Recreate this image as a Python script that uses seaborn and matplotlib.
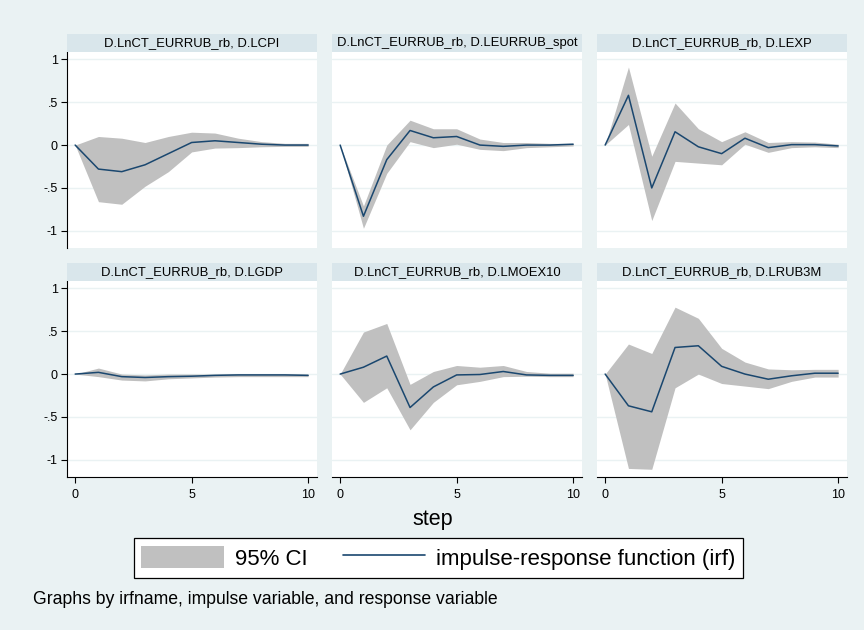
import numpy as np
import pandas as pd
import matplotlib
matplotlib.use("Agg")
import matplotlib.pyplot as plt
import seaborn as sns
from matplotlib.patches import Patch
from matplotlib.lines import Line2D

# ---- data: impulse D.LnCT_EURRUB_rb, 95% CI bounds per response ----
steps = list(range(11))
impulse = "D.LnCT_EURRUB_rb"
responses = ["D.LCPI", "D.LEURRUB_spot", "D.LEXP", "D.LGDP", "D.LMOEX10", "D.LRUB3M"]

lcpi_irf = [0, -0.28, -0.31, -0.23, -0.10, 0.03, 0.05, 0.03, 0.01, 0.0, 0.0]
lcpi_lo = [0, -0.66, -0.69, -0.48, -0.31, -0.08, -0.035, -0.03, -0.02, -0.015, -0.015]
lcpi_hi = [0, 0.10, 0.08, 0.03, 0.10, 0.15, 0.14, 0.08, 0.04, 0.02, 0.02]

spot_irf = [0, -0.83, -0.17, 0.17, 0.085, 0.10, 0.0, -0.015, 0.0, 0.0, 0.01]
spot_lo = [0, -0.97, -0.33, 0.04, -0.03, 0.01, -0.05, -0.065, -0.03, -0.02, -0.01]
spot_hi = [0, -0.71, 0.0, 0.29, 0.19, 0.19, 0.07, 0.03, 0.03, 0.02, 0.02]

lexp_irf = [0, 0.58, -0.50, 0.155, -0.02, -0.10, 0.08, -0.03, 0.005, 0.005, -0.01]
lexp_lo = [0, 0.24, -0.88, -0.19, -0.21, -0.23, 0.01, -0.085, -0.03, -0.02, -0.03]
lexp_hi = [0, 0.91, -0.13, 0.49, 0.19, 0.04, 0.155, 0.03, 0.04, 0.035, 0.01]

lgdp_irf = [0, 0.02, -0.03, -0.04, -0.03, -0.025, -0.015, -0.01, -0.01, -0.01, -0.015]
lgdp_lo = [0, -0.03, -0.07, -0.08, -0.055, -0.045, -0.035, -0.03, -0.03, -0.03, -0.03]
lgdp_hi = [0, 0.07, 0.0, -0.01, 0.0, 0.0, 0.0, 0.005, 0.005, 0.005, 0.0]

moex_irf = [0, 0.08, 0.21, -0.39, -0.15, -0.01, -0.005, 0.03, -0.01, -0.015, -0.015]
moex_lo = [0, -0.33, -0.16, -0.65, -0.33, -0.125, -0.085, -0.03, -0.025, -0.03, -0.03]
moex_hi = [0, 0.49, 0.59, -0.12, 0.03, 0.10, 0.08, 0.10, 0.03, 0.01, 0.01]

rub_irf = [0, -0.37, -0.44, 0.31, 0.33, 0.09, 0.0, -0.06, -0.02, 0.01, 0.01]
rub_lo = [0, -1.10, -1.11, -0.16, 0.0, -0.11, -0.14, -0.17, -0.085, -0.035, -0.035]
rub_hi = [0, 0.35, 0.24, 0.78, 0.65, 0.30, 0.14, 0.06, 0.05, 0.055, 0.055]

ytick_values = [-1, -0.5, 0, 0.5, 1]
ytick_labels = ["-1", "-.5", "0", ".5", "1"]
xtick_values = [0, 5, 10]
xtick_labels = ["0", "5", "10"]

series = {
    "D.LCPI": (lcpi_irf, lcpi_lo, lcpi_hi),
    "D.LEURRUB_spot": (spot_irf, spot_lo, spot_hi),
    "D.LEXP": (lexp_irf, lexp_lo, lexp_hi),
    "D.LGDP": (lgdp_irf, lgdp_lo, lgdp_hi),
    "D.LMOEX10": (moex_irf, moex_lo, moex_hi),
    "D.LRUB3M": (rub_irf, rub_lo, rub_hi),
}
frames = []
for resp in responses:
    irf, lo, hi = series[resp]
    frames.append(pd.DataFrame({"step": steps, "irf": irf, "lo": lo, "hi": hi,
                                "response": resp}))
df = pd.concat(frames, ignore_index=True)

# ---- styling ----
sns.set_style("white")
plt.rcParams["font.family"] = ["Liberation Sans", "DejaVu Sans"]
plt.rcParams["text.color"] = "black"
plt.rcParams["axes.labelcolor"] = "black"
plt.rcParams["xtick.color"] = "black"
plt.rcParams["ytick.color"] = "black"

BG = "#eaf2f3"
STRIP = "#d9e6eb"
NAVY = "#1a476f"
CI_GRAY = "#c0c0c0"

W, H = 864, 630
fig = plt.figure(figsize=(W / 100, H / 100), dpi=100, facecolor=BG)

col_left = [67, 332, 597]
panel_w = 250
row_top = [52, 281]       # top of plot region (px)
panel_h = 196
strip_h = 18


def fx(px):
    return px / W


def fy(py):
    return 1 - py / H


for i, resp in enumerate(responses):
    r, c = divmod(i, 3)
    left = col_left[c]
    top = row_top[r]
    ax = fig.add_axes([fx(left), fy(top + panel_h), fx(panel_w), panel_h / H])
    ax.set_facecolor("white")
    sub = df[df["response"] == resp]
    ax.fill_between(sub["step"], sub["lo"], sub["hi"], color=CI_GRAY, lw=0, zorder=2)
    sns.lineplot(data=sub, x="step", y="irf", ax=ax, color=NAVY, lw=1.1, zorder=3,
                 legend=False)
    ax.set_xlim(-0.35, 10.38)
    ax.set_ylim(-1.2, 1.085)
    ax.set_yticks(ytick_values)
    ax.grid(axis="y", color=BG, lw=1.0, zorder=1)
    ax.grid(axis="x", visible=False)
    for s in ["top", "right"]:
        ax.spines[s].set_visible(False)
    ax.set_xlabel("")
    ax.set_ylabel("")

    if c == 0:
        ax.set_yticklabels(ytick_labels)
        ax.spines["left"].set_color("#000000")
        ax.spines["left"].set_linewidth(0.8)
        ax.tick_params(axis="y", length=4.5, width=0.8, color="#000000", pad=2.2,
                       labelsize=9, left=True)
    else:
        ax.spines["left"].set_visible(False)
        ax.tick_params(axis="y", left=False, labelleft=False)

    if r == 1:
        ax.set_xticks(xtick_values)
        ax.set_xticklabels(xtick_labels)
        ax.spines["bottom"].set_color("#000000")
        ax.spines["bottom"].set_linewidth(0.8)
        ax.tick_params(axis="x", length=4.3, width=0.8, color="#000000", pad=4,
                       labelsize=9, bottom=True)
    else:
        ax.spines["bottom"].set_visible(False)
        ax.set_xticks(xtick_values)
        ax.tick_params(axis="x", bottom=False, labelbottom=False)

    # title strip
    sax = fig.add_axes([fx(left), fy(top), fx(panel_w), strip_h / H])
    sax.set_facecolor(STRIP)
    sax.set_xticks([])
    sax.set_yticks([])
    for s in sax.spines.values():
        s.set_visible(False)
    sax.text(0.5, 0.5, f"{impulse}, {resp}", ha="center", va="center",
             fontsize=9.4, transform=sax.transAxes)

fig.text(fx(432.5), fy(519), "step", ha="center", va="center", fontsize=15.5)

handles = [Patch(facecolor=CI_GRAY, edgecolor="none"),
           Line2D([0], [0], color=NAVY, lw=1.2)]
leg = fig.legend(handles, ["95% CI", "impulse-response function (irf)"],
                 loc="center", bbox_to_anchor=(fx(438.5), fy(558)), ncol=2,
                 fontsize=16, frameon=True, fancybox=False, edgecolor="#000000",
                 facecolor="white", framealpha=1, handlelength=3.7, handleheight=1.15,
                 handletextpad=0.5, columnspacing=1.6, borderpad=0.35,
                 borderaxespad=0)
leg.get_frame().set_linewidth(0.9)

fig.text(fx(33), fy(600), "Graphs by irfname, impulse variable, and response variable",
         ha="left", va="center", fontsize=12.7)

fig.savefig("out.png", dpi=100, facecolor=BG)
